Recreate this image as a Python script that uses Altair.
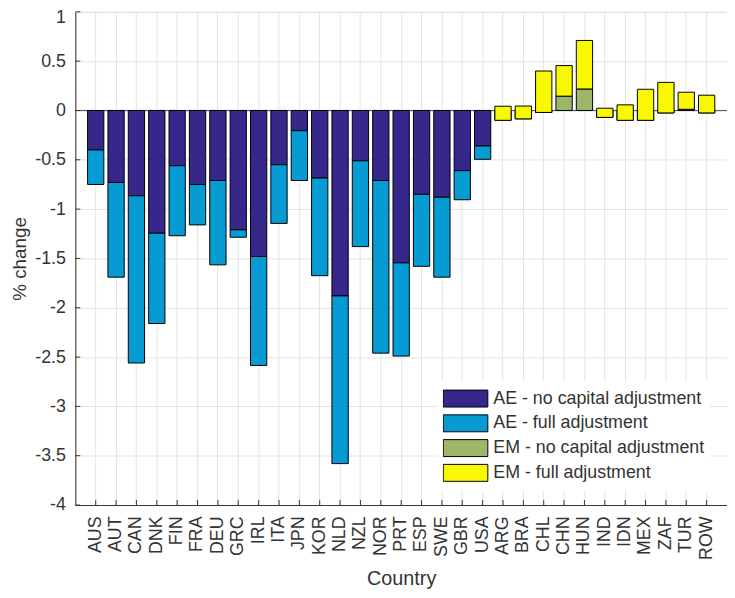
import altair as alt
import pandas as pd

countries = ["AUS", "AUT", "CAN", "DNK", "FIN", "FRA", "DEU", "GRC", "IRL", "ITA",
             "JPN", "KOR", "NLD", "NZL", "NOR", "PRT", "ESP", "SWE", "GBR", "USA",
             "ARG", "BRA", "CHL", "CHN", "HUN", "IND", "IDN", "MEX", "ZAF", "TUR", "ROW"]
groups = ["AE"] * 20 + ["EM"] * 11
no_capital = [-0.40, -0.73, -0.865, -1.245, -0.56, -0.75, -0.71, -1.21, -1.48, -0.55,
              -0.205, -0.685, -1.88, -0.51, -0.71, -1.545, -0.85, -0.88, -0.61, -0.36,
              -0.10, -0.085, -0.02, 0.145, 0.218, -0.07, -0.10, -0.10, -0.025, 0.012, -0.025]
full_adj = [-0.75, -1.69, -2.56, -2.16, -1.27, -1.16, -1.565, -1.285, -2.585, -1.145,
            -0.71, -1.675, -3.58, -1.38, -2.46, -2.49, -1.58, -1.69, -0.905, -0.495,
            0.043, 0.045, 0.40, 0.455, 0.71, 0.023, 0.057, 0.215, 0.285, 0.185, 0.155]

series_names = ["AE - no capital adjustment", "AE - full adjustment",
                "EM - no capital adjustment", "EM - full adjustment"]
series_colors = ["#35288A", "#069CD3", "#9CB66A", "#F8F800"]
y_ticks = [-4, -3.5, -3, -2.5, -2, -1.5, -1, -0.5, 0, 0.5, 1]

rows = []
for c, g, n, f in zip(countries, groups, no_capital, full_adj):
    rows.append({"country": c, "seg": "nocap", "start": 0.0, "end": n,
                 "series": f"{g} - no capital adjustment"})
    rows.append({"country": c, "seg": "full", "start": n, "end": f,
                 "series": f"{g} - full adjustment"})
df = pd.DataFrame(rows)

FONT = "Liberation Sans"
TXT = "#333333"
GRID = "#e3e3e3"

x_axis = alt.Axis(title="Country", labelAngle=270, grid=True, ticks=False,
                  bandPosition=0.5, labelPadding=11, titlePadding=9,
                  labelFontSize=18, titleFontSize=20, labelColor=TXT,
                  titleColor=TXT, titleFontWeight="normal",
                  domainColor=TXT, gridColor=GRID)
x_scale = alt.Scale(paddingInner=0.2, paddingOuter=0.6)
y_axis = alt.Axis(title="% change", values=y_ticks, labelExpr="'' + datum.value",
                  grid=True, ticks=False, labelPadding=10, titlePadding=5,
                  labelFontSize=18, titleFontSize=19, labelColor=TXT,
                  labelOffset={"condition": {"test": "datum.value == 1", "value": 6},
                               "value": 0},
                  titleColor=TXT, titleFontWeight="normal",
                  domainColor=TXT, gridColor=GRID)
y_scale = alt.Scale(domain=[-4, 1], nice=False, zero=False)

x_enc = alt.X("country:N", sort=countries, scale=x_scale, axis=x_axis)

color_enc = alt.Color(
    "series:N",
    scale=alt.Scale(domain=series_names, range=series_colors),
    legend=alt.Legend(
        title=None, orient="none", legendX=366, legendY=373,
        symbolType="M-1,-0.38L1,-0.38L1,0.38L-1,0.38Z", symbolSize=2025,
        clipHeight=25, rowPadding=0, symbolStrokeColor="black", symbolStrokeWidth=1,
        symbolOpacity=1, labelFontSize=18, labelColor=TXT,
        labelOffset=5, fillColor="white", padding=5, labelLimit=320,
    ),
)

base = alt.Chart(df)
bars_nocap = base.transform_filter(alt.datum.seg == "nocap").mark_bar(
    stroke="black", strokeWidth=1, opacity=1
).encode(x=x_enc, y=alt.Y("start:Q", scale=y_scale, axis=y_axis), y2="end:Q",
         color=color_enc)
bars_full = base.transform_filter(alt.datum.seg == "full").mark_bar(
    stroke="black", strokeWidth=1, opacity=1
).encode(x=x_enc, y=alt.Y("start:Q", scale=y_scale, axis=y_axis), y2="end:Q",
         color=color_enc)

zero_rule = alt.Chart(pd.DataFrame({"v": [0.0]})).mark_rule(
    color="#555555", strokeWidth=1
).encode(y=alt.Y("v:Q", scale=y_scale, axis=y_axis))

# inward axis ticks (MATLAB style)
left_ticks = alt.Chart(pd.DataFrame({"v": y_ticks})).mark_rule(
    color=TXT, strokeWidth=1
).encode(y=alt.Y("v:Q", scale=y_scale, axis=y_axis), x=alt.value(0), x2=alt.value(5))
bottom_ticks = alt.Chart(pd.DataFrame({"country": countries})).mark_rule(
    color=TXT, strokeWidth=1
).encode(x=x_enc, y=alt.datum(-4), y2=alt.datum(-3.95))

chart = alt.layer(zero_rule, bars_nocap, bars_full, left_ticks, bottom_ticks).properties(
    width=658, height=498,
    autosize=alt.AutoSizeParams(type="none"),
    padding={"left": 68, "top": 1, "right": 0, "bottom": 91},
).configure_view(stroke=None).configure(font=FONT)

chart.save("out.html", embed_options={"renderer": "svg", "actions": False})
